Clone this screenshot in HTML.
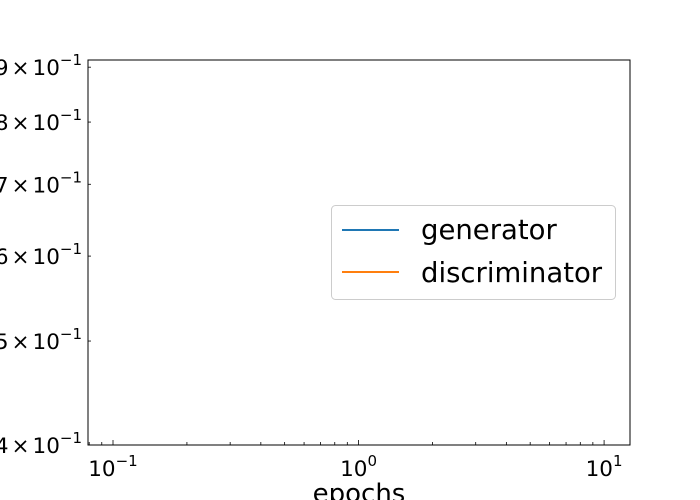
<!DOCTYPE html>
<html><head><meta charset="utf-8"><style>
html,body{margin:0;padding:0;background:#fff;}
svg{display:block;font-family:"DejaVu Sans","Liberation Sans",sans-serif;}
</style></head><body>
<svg id="chart" width="700" height="500" viewBox="0 0 700 500">
<g id="ticks"></g>
<rect x="88" y="60" width="542" height="385" fill="none" stroke="#000" stroke-width="1"/>
<text x="359" y="502" font-size="26" text-anchor="middle">epochs</text>
<g>
<rect x="331.5" y="205.5" width="284" height="94" rx="4" fill="#fff" fill-opacity="0.8" stroke="#ccc"/>
<line x1="342" y1="230" x2="399" y2="230" stroke="#1f77b4" stroke-width="2"/>
<text x="421" y="239" font-size="27.5">generator</text>
<line x1="342" y1="272" x2="399" y2="272" stroke="#ff7f0e" stroke-width="2"/>
<text x="421" y="282" font-size="27.5">discriminator</text>
</g>
<g id="series"></g>
</svg>
<script>
const epochs = [];
const generatorLoss = [];
const discriminatorLoss = [];
const xMajorExps = [-1, 0, 1];
const yTickValues = [0.4, 0.5, 0.6, 0.7, 0.8, 0.9];
const yTickDigits = ["4", "5", "6", "7", "8", "9"];

const L = 88, R = 630, T = 60, B = 445;
const xMin = Math.log10(0.0791), xMax = Math.log10(12.75);
const yMin = Math.log10(0.4), yMax = Math.log10(0.914);
function xs(v){ return L + (Math.log10(v) - xMin) / (xMax - xMin) * (R - L); }
function ys(v){ return B - (Math.log10(v) - yMin) / (yMax - yMin) * (B - T); }

const NS = "http://www.w3.org/2000/svg";
const tg = document.getElementById("ticks");
function line(x1,y1,x2,y2,name){
  const l = document.createElementNS(NS,"line");
  l.setAttribute("x1",x1);l.setAttribute("y1",y1);l.setAttribute("x2",x2);l.setAttribute("y2",y2);
  l.setAttribute("stroke","#000");l.setAttribute("stroke-width","0.8");
  
  
  tg.appendChild(l);
}
for (let e = -2; e <= 1; e++) {
  for (let m = 1; m <= 9; m++) {
    const v = m * Math.pow(10, e);
    const x = xs(v);
    if (x < L || x > R) continue;
    const len = m === 1 ? 5 : 3;
    line(x, B, x, B - len, m === 1 ? "x-major-tick" : "x-minor-tick");
  }
}
xMajorExps.forEach(function(e){
  const x = xs(Math.pow(10, e));
  const t = document.createElementNS(NS,"text");
  t.setAttribute("x", x); t.setAttribute("y", 476);
  t.setAttribute("font-size","21.5"); t.setAttribute("text-anchor","middle");
  
  
  t.innerHTML = '10<tspan dy="-10" font-size="15">' + (e < 0 ? '\u2212' + (-e) : e) + '</tspan>';
  tg.appendChild(t);
});
yTickValues.forEach(function(v, i){
  const y = ys(v);
  line(L, y, L + 3, y, "y-minor-tick");
  const t = document.createElementNS(NS,"text");
  t.setAttribute("x", 82); t.setAttribute("y", y + 8);
  t.setAttribute("font-size","21.5"); t.setAttribute("text-anchor","end");
  
  
  t.innerHTML = yTickDigits[i] + '<tspan dx="3">\u00d7</tspan><tspan dx="3">10</tspan><tspan dy="-10" font-size="15">\u22121</tspan>';
  tg.appendChild(t);
});
const sg = document.getElementById("series");
function drawSeries(vals, color, name){
  if (!vals.length) return;
  const p = document.createElementNS(NS,"polyline");
  p.setAttribute("points", vals.map(function(v,i){ return xs(epochs[i]) + "," + ys(v); }).join(" "));
  p.setAttribute("fill","none"); p.setAttribute("stroke",color); p.setAttribute("stroke-width","1.5");
  
  
  sg.appendChild(p);
}
drawSeries(generatorLoss, "#1f77b4", "generator-line");
drawSeries(discriminatorLoss, "#ff7f0e", "discriminator-line");
</script>
</body></html>
